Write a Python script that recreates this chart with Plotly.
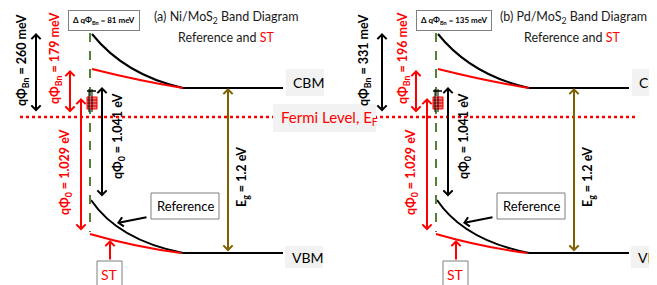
import plotly.graph_objects as go

# ---------------- data (values shown in the diagram) ----------------
panel_titles = ["(a) Ni/MoS<sub>2</sub> Band Diagram", "(b) Pd/MoS<sub>2</sub> Band Diagram"]
phi_bn_ref_meV = [260, 331]
phi_bn_st_meV = [179, 196]
delta_phi_bn_meV = [81, 135]
phi0_ref_eV = [1.041, 1.041]
phi0_st_eV = [1.029, 1.029]
eg_eV = [1.2, 1.2]
band_labels = ["CBM", "VBM"]
fermi_label = "Fermi Level, E<sub>F</sub>"
curve_labels = ["Reference", "ST"]

# ---------------- schematic geometry (pixel canvas 657 x 285) ----------------
W, H = 657, 285
PAGE_MARGIN = 8  # default body margin of the html page
PANEL_DX = [0, 346]
Y_TOP, Y_CBM, Y_EF, Y_VBM = 34, 88, 117, 253
X_IF = 90
X_FLAT0, X_FLAT1 = 183, 283
RED = "#ff0000"
BLACK = "#000000"
GREEN = "#548235"
OLIVE = "#7f6000"
FONT = "Lato"
BN_LABEL_X = [22, 364]

fig = go.Figure()
shapes = []
ann = []


def darrow(x, y0, y1, color, both=True, x0=None):
    ann.append(dict(x=x, y=y1, ax=x if x0 is None else x0, ay=y0, xref="x", yref="y",
                    axref="x", ayref="y", text="", showarrow=True,
                    arrowhead=4, startarrowhead=4,
                    arrowside="end+start" if both else "end",
                    arrowwidth=2, arrowsize=0.9, startarrowsize=0.9, arrowcolor=color))


def vlabel(x, y, text, color, size=12.5):
    ann.append(dict(x=x, y=y, xref="x", yref="y", text="<b>" + text + "</b>", showarrow=False,
                    textangle=-90, font=dict(family=FONT, size=size, color=color),
                    xanchor="center", yanchor="middle"))


def text(x, y, t, color=BLACK, size=13, xanchor="center", bold=False):
    ann.append(dict(x=x, y=y, xref="x", yref="y", text=("<b>%s</b>" % t) if bold else t,
                    showarrow=False, font=dict(family=FONT, size=size, color=color),
                    xanchor=xanchor, yanchor="middle"))


def rect(x0, y0, x1, y1, fill="white", line="#7f7f7f", lw=1):
    shapes.append(dict(type="rect", xref="x", yref="y", x0=x0, y0=y0, x1=x1, y1=y1,
                       fillcolor=fill, line=dict(color=line, width=lw)))


def seg(x0, y0, x1, y1, color, w=2, dash="solid"):
    shapes.append(dict(type="line", xref="x", yref="y", x0=x0, y0=y0, x1=x1, y1=y1,
                       line=dict(color=color, width=w, dash=dash)))


def path(p, color, w=2):
    shapes.append(dict(type="path", xref="x", yref="y", path=p,
                       line=dict(color=color, width=w)))


# Fermi level dotted line across both panels
seg(20, Y_EF, 638, Y_EF, RED, w=2.5, dash="dot")

for i, dx in enumerate(PANEL_DX):
    # flat band edges
    fig.add_trace(go.Scatter(x=[X_FLAT0 + dx, X_FLAT1 + dx], y=[Y_CBM, Y_CBM], mode="lines",
                             line=dict(color=BLACK, width=2), hoverinfo="skip", showlegend=False))
    fig.add_trace(go.Scatter(x=[X_FLAT0 + dx, X_FLAT1 + dx], y=[Y_VBM, Y_VBM], mode="lines",
                             line=dict(color=BLACK, width=2), hoverinfo="skip", showlegend=False))
    # band bending: reference (black) and ST (red)
    path("M %d,%d Q %d,%d %d,%d" % (92 + dx, Y_TOP, 125 + dx, 75, X_FLAT0 + dx, Y_CBM), BLACK)
    path("M %d,%d Q %d,%d %d,%d" % (92 + dx, 69, 140 + dx, 81, X_FLAT0 + dx, Y_CBM), RED)
    path("M %d,%d Q %d,%d %d,%d" % (91 + dx, 200, 118 + dx, 240, X_FLAT0 + dx, Y_VBM), BLACK)
    path("M %d,%d Q %d,%d %d,%d" % (90 + dx, 234, 135 + dx, 247, 181 + dx, Y_VBM), RED)
    # interface
    seg(X_IF + dx, 33, X_IF + dx, 232, GREEN, w=2, dash="dash")
    # trap-state marks
    seg(87 + dx, 91, 96 + dx, 91, BLACK, w=1.5)
    rect(87 + dx, 97, 97 + dx, 109, fill="rgba(255,90,90,0.85)", line=RED, lw=1)
    for yy in (100, 103, 106):
        seg(87 + dx, yy, 97 + dx, yy, "#c00000", w=1)
    seg(89 + dx, 89, 89 + dx, 112, BLACK, w=1)
    seg(92 + dx, 89, 92 + dx, 112, BLACK, w=1)

    # barrier heights
    darrow(36 + dx, 113, 33, BLACK)
    darrow(70 + dx, 114, 70, RED)
    vlabel(BN_LABEL_X[i], 60, "qΦ<sub>Bn</sub> = %d meV" % phi_bn_ref_meV[i], BLACK)
    vlabel(55 + dx + (0 if i == 0 else 2), 58,
           "qΦ<sub>Bn</sub> = %d meV" % phi_bn_st_meV[i], RED)
    # phi0
    darrow(81 + dx, 232, 98, RED)
    vlabel(65 + dx, 172, "qΦ<sub>0</sub> = %.3f eV" % phi0_st_eV[i], RED)
    darrow(102 + dx, 198, 87, BLACK)
    vlabel(118 + dx, 136, "qΦ<sub>0</sub> = %.3f eV" % phi0_ref_eV[i], BLACK)
    # band gap
    darrow(228 + dx, Y_VBM, Y_CBM, OLIVE)
    vlabel(242 + dx, 177, "E<sub>g</sub> = %.1f eV" % eg_eV[i], BLACK)

    # delta box
    ann.append(dict(x=104 + dx + (4 if i else 0), y=20.5, xref="x", yref="y",
                    text="<b>Δ qΦ<sub>Bn</sub> = %d meV</b>" % delta_phi_bn_meV[i],
                    showarrow=False, font=dict(family=FONT, size=8, color=BLACK),
                    bgcolor="white", bordercolor="#7f7f7f", borderwidth=1, borderpad=4,
                    xanchor="center", yanchor="middle"))
    # title
    text(152 + dx, 17, panel_titles[i], color="#1a1a1a", size=12.5, xanchor="left")
    text(226 + dx, 37, "Reference and <span style='color:#ff0000'>ST</span>",
         color="#1a1a1a", size=12.5)

    # CBM / VBM labels
    rect(286 + dx, 69, 324 + dx, 96, fill="#f2f2f2", line="rgba(0,0,0,0)", lw=0)
    text(291 + dx, 82, band_labels[0], size=14, xanchor="left")
    rect(285 + dx, 246, 323 + dx, 268, fill="#f2f2f2", line="rgba(0,0,0,0)", lw=0)
    text(290 + dx, 257, band_labels[1], size=14, xanchor="left")

    # Reference callout
    rect(151 + dx, 193, 219 + dx, 219, fill="white", line="#7f7f7f", lw=1)
    text(185 + dx, 206, curve_labels[0], size=13)
    darrow(117 + dx, 217, 223, BLACK, both=False, x0=148 + dx)
    # ST callout
    rect(97 + dx, 261, 122 + dx, 296, fill="white", line="#7f7f7f", lw=1)
    text(109.5 + dx, 274, curve_labels[1], color=RED, size=14)
    darrow(110 + dx, 261, 240, RED, both=False)

# Fermi level label
rect(273, 104, 376, 132, fill="#f2f2f2", line="rgba(0,0,0,0)", lw=0)
text(279, 118, fermi_label, color=RED, size=15, xanchor="left")

# The page places the figure 8px from the window's top-left corner; shift the
# axis ranges so that canvas coordinates coincide with window pixels.
fig.update_layout(
    width=W, height=H - PAGE_MARGIN, margin=dict(l=0, r=0, t=0, b=0),
    paper_bgcolor="white", plot_bgcolor="white",
    xaxis=dict(range=[PAGE_MARGIN, W + PAGE_MARGIN], visible=False, fixedrange=True),
    yaxis=dict(range=[H, PAGE_MARGIN], visible=False, fixedrange=True),
    shapes=shapes, annotations=ann, showlegend=False,
)
fig.write_html("out.html")
